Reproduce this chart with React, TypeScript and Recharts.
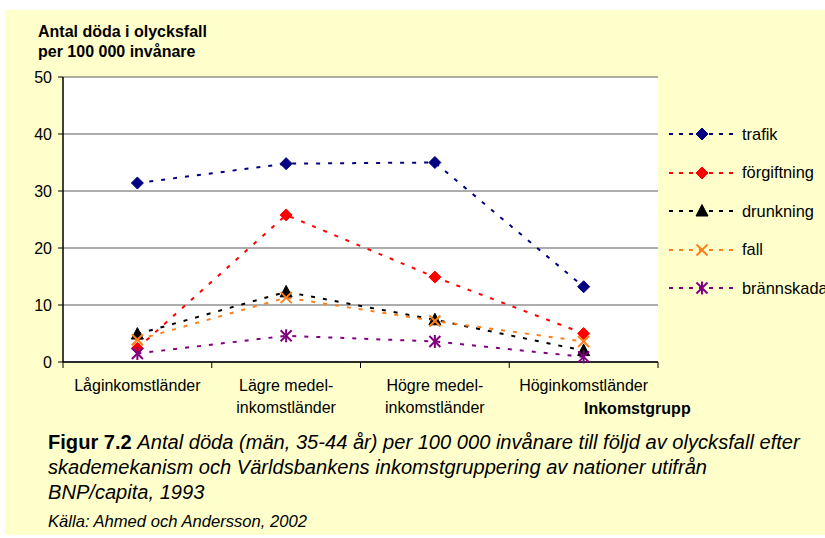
import React from "react";
import {
  LineChart,
  Line,
  XAxis,
  YAxis,
  CartesianGrid,
} from "recharts";

const categories = [
  "Låginkomstländer",
  "Lägre medel-\ninkomstländer",
  "Högre medel-\ninkomstländer",
  "Höginkomstländer",
];
const trafik = [31.4, 34.8, 35.0, 13.2];
const forgiftning = [2.4, 25.8, 14.9, 5.0];
const drunkning = [4.9, 12.3, 7.4, 2.0];
const fall = [3.9, 11.3, 7.2, 3.6];
const brannskada = [1.5, 4.6, 3.6, 0.9];
const yTicks = [0, 10, 20, 30, 40, 50];
const boundaryTicks = [0, 1, 2, 3, 4];
const centerTicks = [0.5, 1.5, 2.5, 3.5];

const series = [
  { key: "trafik", name: "trafik", color: "#000080", shape: "diamond" },
  { key: "forgiftning", name: "förgiftning", color: "#FF0000", shape: "diamond" },
  { key: "drunkning", name: "drunkning", color: "#000000", shape: "triangle" },
  { key: "fall", name: "fall", color: "#FF7F1A", shape: "x" },
  { key: "brannskada", name: "brännskada", color: "#800080", shape: "star" },
];

const data = categories.map((c, i) => ({
  pos: i + 0.5,
  kategori: c,
  trafik: trafik[i],
  forgiftning: forgiftning[i],
  drunkning: drunkning[i],
  fall: fall[i],
  brannskada: brannskada[i],
}));

const FONT = "'Liberation Sans', Arial, Helvetica, sans-serif";

function Marker({ shape, color, cx, cy }: any) {
  if (cx == null || cy == null) return null;
  if (shape === "diamond") {
    const r = 6;
    return (
      <polygon
        points={`${cx},${cy - r} ${cx + r},${cy} ${cx},${cy + r} ${cx - r},${cy}`}
        fill={color}
        stroke={color}
        strokeWidth={1}
      />
    );
  }
  if (shape === "triangle") {
    return (
      <polygon
        points={`${cx},${cy - 6.5} ${cx + 6},${cy + 5} ${cx - 6},${cy + 5}`}
        fill={color}
        stroke={color}
        strokeWidth={1}
      />
    );
  }
  if (shape === "x") {
    const r = 5.5;
    return (
      <g stroke={color} strokeWidth={2}>
        <line x1={cx - r} y1={cy - r} x2={cx + r} y2={cy + r} />
        <line x1={cx - r} y1={cy + r} x2={cx + r} y2={cy - r} />
      </g>
    );
  }
  const r = 5.5;
  return (
    <g stroke={color} strokeWidth={2}>
      <line x1={cx - r} y1={cy - r} x2={cx + r} y2={cy + r} />
      <line x1={cx - r} y1={cy + r} x2={cx + r} y2={cy - r} />
      <line x1={cx} y1={cy - r - 1} x2={cx} y2={cy + r + 1} />
    </g>
  );
}

function CatTick({ x, y, payload }: any) {
  const idx = Math.floor(payload.value);
  const lines = (categories[idx] || "").split("\n");
  return (
    <text x={x} y={y} textAnchor="middle" fontSize={16} fill="#000" fontFamily={FONT}>
      {lines.map((l, i) => (
        <tspan key={i} x={x} dy={i === 0 ? 13 : 22}>
          {l}
        </tspan>
      ))}
    </text>
  );
}

function LegendBox() {
  return (
    <div
      style={{
        position: "absolute",
        left: 669,
        top: 115,
        width: 170,
        fontFamily: FONT,
        fontSize: 16.4,
        color: "#000",
      }}
    >
      {series.map((s) => (
        <div
          key={s.key}
          style={{ height: 38.5, display: "flex", alignItems: "center", whiteSpace: "nowrap" }}
        >
          <svg width={65} height={20} style={{ display: "block" }}>
            <line
              x1={0}
              y1={10}
              x2={65}
              y2={10}
              stroke={s.color}
              strokeWidth={2}
              strokeDasharray="4 6"
            />
            <Marker shape={s.shape} color={s.color} cx={33} cy={10} />
          </svg>
          <span style={{ marginLeft: 8 }}>{s.name}</span>
        </div>
      ))}
    </div>
  );
}

export default function App() {
  return (
    <div
      style={{
        position: "absolute",
        left: 0,
        top: 0,
        width: 825,
        height: 538,
        background: "#fff",
        overflow: "hidden",
        fontFamily: FONT,
      }}
    >
      <div
        style={{
          position: "absolute",
          left: 5,
          top: 10,
          width: 820,
          height: 525,
          background: "#FFFFCC",
        }}
      />
      <div style={{ position: "absolute", left: 0, top: 0 }}>
        <LineChart
          width={825}
          height={538}
          data={data}
          margin={{ top: 77, right: 167, bottom: 118, left: 13 }}
        >
          <CartesianGrid vertical={false} stroke="#5a5a5a" fill="#ffffff" strokeWidth={1} />
          <XAxis
            dataKey="pos"
            type="number"
            domain={[0, 4]}
            ticks={boundaryTicks}
            tickFormatter={() => ""}
            height={8}
            tickSize={6}
            stroke="#000"
            axisLine={{ stroke: "#000", strokeWidth: 1.5 }}
            tickLine={{ stroke: "#000" }}
            interval={0}
          />
          <XAxis
            xAxisId="labels"
            dataKey="pos"
            type="number"
            domain={[0, 4]}
            ticks={centerTicks}
            axisLine={false}
            tickLine={false}
            tick={<CatTick />}
            height={50}
            interval={0}
          />
          <YAxis
            domain={[0, 50]}
            ticks={yTicks}
            width={50}
            tickSize={5}
            tickMargin={6}
            axisLine={{ stroke: "#000", strokeWidth: 1.5 }}
            tickLine={{ stroke: "#000" }}
            tick={{ fontSize: 16, fill: "#000", fontFamily: FONT }}
            interval={0}
          />
          <YAxis
            yAxisId="right"
            orientation="right"
            domain={[0, 50]}
            width={0}
            tick={false}
            tickLine={false}
            axisLine={{ stroke: "#000", strokeWidth: 1.5 }}
          />
          {series.map((s) => (
            <Line
              key={s.key}
              dataKey={s.key}
              name={s.name}
              type="linear"
              stroke={s.color}
              strokeWidth={2}
              strokeDasharray="4 8"
              isAnimationActive={false}
              dot={(p: any) => (
                <Marker key={`${s.key}-${p.index}`} shape={s.shape} color={s.color} cx={p.cx} cy={p.cy} />
              )}
              activeDot={false}
            />
          ))}
        </LineChart>
      </div>
      <LegendBox />
      <svg
        width={825}
        height={538}
        style={{ position: "absolute", left: 0, top: 0, pointerEvents: "none" }}
        fontFamily={FONT}
      >
        <text x={38} y={37} fontSize={16} fontWeight="bold" fill="#000">
          Antal döda i olycksfall
        </text>
        <text x={38} y={57} fontSize={16} fontWeight="bold" fill="#000">
          per 100 000 invånare
        </text>
        <text x={584} y={414} fontSize={16} fontWeight="bold" fill="#000">
          Inkomstgrupp
        </text>
        <text x={48} y={449} fontSize={20.1} fill="#000">
          <tspan fontWeight="bold">Figur 7.2 </tspan>
          <tspan fontStyle="italic">
            Antal döda (män, 35-44 år) per 100 000 invånare till följd av olycksfall efter
          </tspan>
        </text>
        <text x={48} y={474} fontSize={20.1} fontStyle="italic" fill="#000">
          skademekanism och Världsbankens inkomstgruppering av nationer utifrån
        </text>
        <text x={48} y={499} fontSize={20.1} fontStyle="italic" fill="#000">
          BNP/capita, 1993
        </text>
        <text x={48} y={527} fontSize={16.6} fontStyle="italic" fill="#000">
          Källa: Ahmed och Andersson, 2002
        </text>
      </svg>
    </div>
  );
}
